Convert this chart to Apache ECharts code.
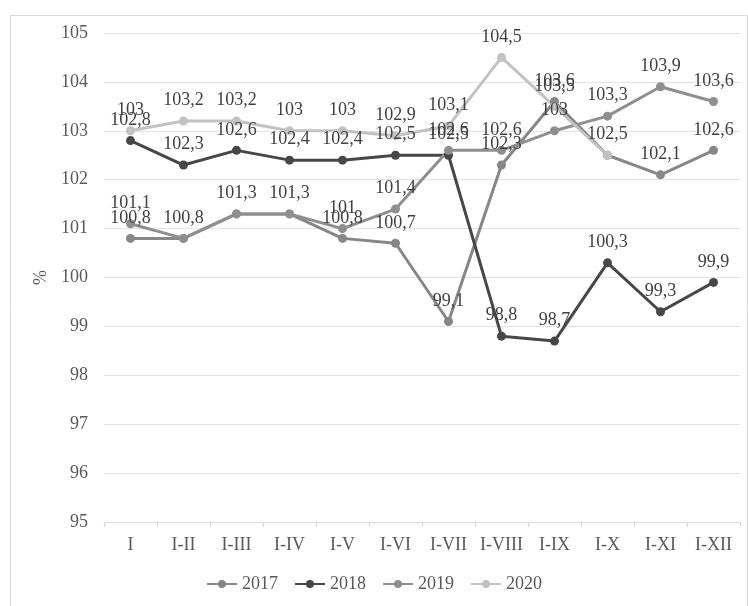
<!DOCTYPE html>
<html>
<head>
<meta charset="utf-8">
<script src="https://cdn.jsdelivr.net/npm/echarts@6/dist/echarts.min.js"></script>
<style>
html,body{margin:0;padding:0;background:#fff;}
#c{width:748px;height:606px;}
</style>
</head>
<body>
<div id="c"></div>
<script>
const categories = ['I','I-II','I-III','I-IV','I-V','I-VI','I-VII','I-VIII','I-IX','I-X','I-XI','I-XII'];
const s2017 = [100.8, 100.8, 101.3, 101.3, 100.8, 100.7, 99.1, 102.3, 103.6, 102.5, 102.1, 102.6];
const s2018 = [102.8, 102.3, 102.6, 102.4, 102.4, 102.5, 102.5, 98.8, 98.7, 100.3, 99.3, 99.9];
const s2019 = [101.1, 100.8, 101.3, 101.3, 101.0, 101.4, 102.6, 102.6, 103.0, 103.3, 103.9, 103.6];
const s2020 = [103.0, 103.2, 103.2, 103.0, 103.0, 102.9, 103.1, 104.5, 103.5, 102.5, null, null];
const seriesNames = ['2017','2018','2019','2020'];
const yTicks = {min: 95, max: 105, interval: 1};

const colors = ['#878787', '#474747', '#8f8f8f', '#c2c2c2'];
const font = '"Liberation Serif", "Times New Roman", serif';
const chart = echarts.init(document.getElementById('c'));
const all = [s2017, s2018, s2019, s2020];

function mk(k) {
  const data = all[k].map((v, i) => {
    // hide a label that sits exactly under an identical label of a later series
    const dup = all.slice(k + 1).some(s => s[i] === v);
    return dup ? {value: v, label: {show: false}} : v;
  });
  const color = colors[k];
  return {
    name: seriesNames[k], type: 'line', data: data,
    symbol: 'circle', symbolSize: 9,
    lineStyle: {width: 3, color: color},
    itemStyle: {color: color},
    label: {
      show: true, position: 'top', distance: 7,
      color: '#404040', fontFamily: font, fontSize: 18,
      formatter: p => p.value == null ? '' : String(p.value).replace('.', ',')
    },
    emphasis: {disabled: true},
    animation: false
  };
}

chart.setOption({
  animation: false,
  backgroundColor: '#fff',
  graphic: [{
    type: 'rect', left: 8, top: 13,
    shape: {width: 737, height: 600},
    style: {fill: 'none', stroke: '#d9d9d9', lineWidth: 1},
    silent: true, z: -1
  }],
  grid: {left: 104, right: 8, top: 33, bottom: 84, containLabel: false},
  legend: {
    bottom: 8, left: 'center',
    itemWidth: 30, itemHeight: 10, itemGap: 16,
    textStyle: {fontFamily: font, fontSize: 18, color: '#595959'},
    data: seriesNames
  },
  xAxis: {
    type: 'category', data: categories, boundaryGap: true,
    axisLine: {lineStyle: {color: '#d9d9d9', width: 1}},
    axisTick: {show: true, length: 5, lineStyle: {color: '#d9d9d9'}},
    axisLabel: {fontFamily: font, fontSize: 18, color: '#595959', margin: 14, interval: 0}
  },
  yAxis: {
    type: 'value', min: yTicks.min, max: yTicks.max, interval: yTicks.interval,
    name: '%', nameLocation: 'middle', nameRotate: 90, nameGap: 52,
    nameTextStyle: {fontFamily: font, fontSize: 18, color: '#595959'},
    axisLine: {show: false}, axisTick: {show: false},
    splitLine: {lineStyle: {color: '#e3e3e3', width: 1}},
    axisLabel: {fontFamily: font, fontSize: 18, color: '#595959', margin: 16}
  },
  series: [mk(0), mk(1), mk(2), mk(3)]
});
</script>
</body>
</html>
